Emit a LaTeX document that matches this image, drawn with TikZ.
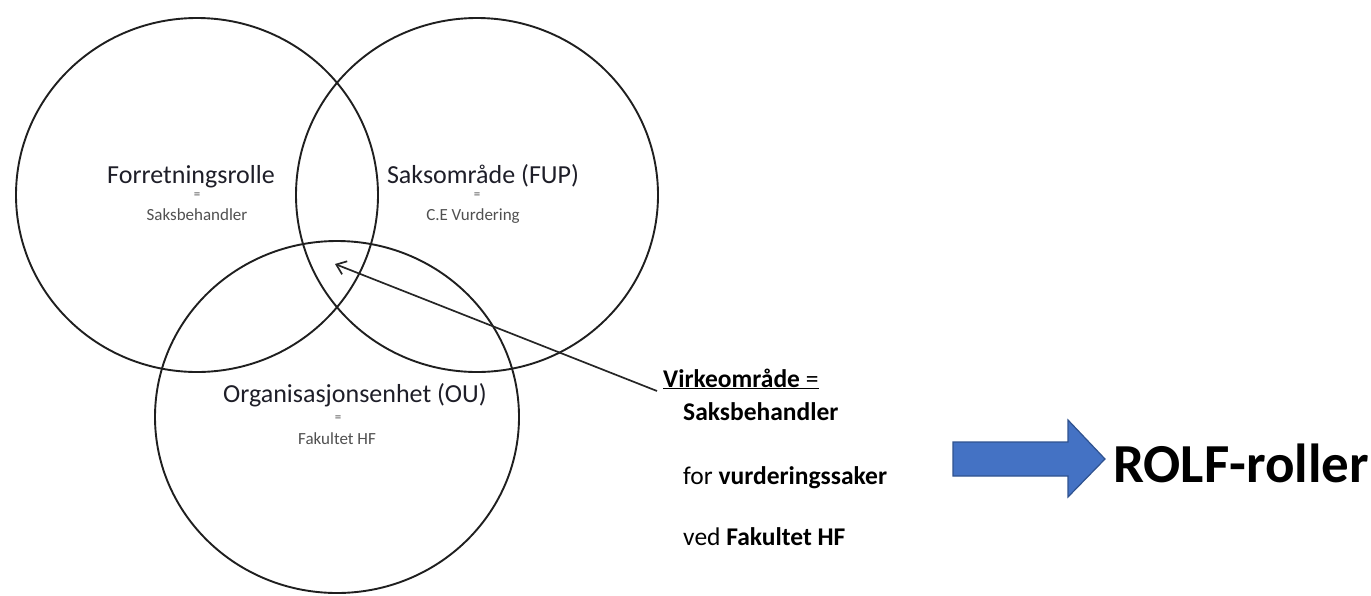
\documentclass[tikz,border=0pt]{standalone}
\usepackage{fontspec}
\setmainfont{Carlito}
\usetikzlibrary{arrows.meta}
\definecolor{ink}{HTML}{1E1E28}
\definecolor{subtxt}{HTML}{505050}
\definecolor{arrowfill}{HTML}{4472C4}
\definecolor{arrowline}{HTML}{2F528F}
\begin{document}
\begin{tikzpicture}[x=1pt,y=-1pt,
  setring/.style={draw=black!88,line width=1.9pt},
  biglabel/.style={anchor=base,inner sep=0pt,text=ink,font=\fontsize{26}{30}\selectfont},
  eqsign/.style={anchor=base,inner sep=0pt,text=subtxt,font=\fontsize{13}{15}\selectfont},
  sublabel/.style={anchor=base,inner sep=0pt,text=subtxt,font=\fontsize{17}{20}\selectfont},
  desc/.style={anchor=base west,inner sep=0pt,text=black,font=\fontsize{25.5}{30}\selectfont},
  pointer/.style={draw=black!85,line width=1.7pt,-{Straight Barb[length=9pt,width=14pt,line width=1.7pt]}}]
\useasboundingbox (0,0) rectangle (1371,595);

% the three overlapping sets
\draw[setring] (197,195) ellipse [x radius=181,y radius=177];
\draw[setring] (477,195) ellipse [x radius=181,y radius=177];
\draw[setring] (337,417) ellipse [x radius=182,y radius=176];

% labels of the sets
\node[biglabel] (fr) at (191,183) {Forretningsrolle};
\node[eqsign] (fre) at (197,198) {=};
\node[sublabel] (frs) at (197,220) {Saksbehandler};

\node[biglabel] (so) at (483,183) {Saksområde (FUP)};
\node[eqsign] (soe) at (477,198) {=};
\node[sublabel] (sos) at (473,220) {C.E Vurdering};

\node[biglabel] (ou) at (355,402) {Organisasjonsenhet (OU)};
\node[eqsign] (oue) at (338,421) {=};
\node[sublabel] (ous) at (337,444) {Fakultet HF};

% explanation of the common area
\node[desc] (vo) at (663,387) {\underline{\textbf{Virkeområde} =}};
\node[desc] (l1) at (683,420) {\textbf{Saksbehandler}};
\node[desc] (l2) at (683,484) {for \textbf{vurderingssaker}};
\node[desc] (l3) at (683,545) {ved \textbf{Fakultet HF}};

\coordinate (core) at (335,264);
\coordinate (vostart) at (657,391);
\draw[pointer] (vostart) -- (core);

% block arrow towards the result
\draw[fill=arrowfill,draw=arrowline,line width=1.2pt,line join=miter]
  (953,442) -- (1068,442) -- (1068,420) -- (1105,459) -- (1068,497) -- (1068,476) -- (953,476) -- cycle;
\node[anchor=base west,inner sep=0pt,font=\fontsize{55}{60}\selectfont\bfseries] (rolf) at (1113,482) {ROLF-roller};
\end{tikzpicture}
\end{document}
